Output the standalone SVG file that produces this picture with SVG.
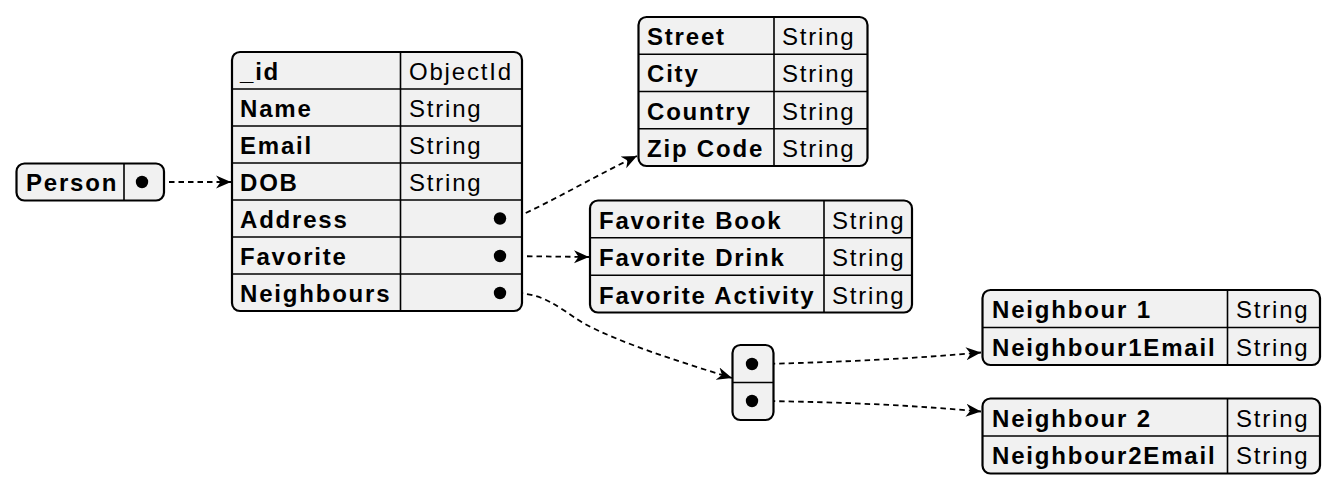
<svg xmlns="http://www.w3.org/2000/svg" width="1336" height="492" viewBox="0 0 1336 492">
<style>
.box{fill:#f1f1f1;stroke:#000;stroke-width:2.2}
.ln{stroke:#000;stroke-width:1.6;fill:none}
.k{font-family:"Liberation Sans",Arial,sans-serif;font-weight:bold;font-size:24px;letter-spacing:1.8px;fill:#000}
.v{font-family:"Liberation Sans",Arial,sans-serif;font-size:24px;letter-spacing:1.8px;fill:#000}
.dot{fill:#000}
.edge{fill:none;stroke:#000;stroke-width:1.8;stroke-dasharray:5.5,4}
</style>
<defs>
<marker id="ah" markerUnits="userSpaceOnUse" markerWidth="16" markerHeight="14" refX="15" refY="7" orient="auto">
<path d="M0,0.5 L15,7 L0,13.5 L4.5,7 z" fill="#000"/>
</marker>
</defs>
<g id="edges">
<path class="edge" d="M150,182 L231,182" marker-end="url(#ah)"/>
<path class="edge" d="M508,218.5 L514,218.5 C555,200 595,176 637,156" marker-end="url(#ah)"/>
<path class="edge" d="M508,256 L589,257" marker-end="url(#ah)"/>
<path class="edge" d="M508,293 L518,293 C545,295 555,305 583,323 C620,343 680,362 732,378" marker-end="url(#ah)"/>
<path class="edge" d="M760,364 C850,362 920,358 981,352.5" marker-end="url(#ah)"/>
<path class="edge" d="M760,401 C850,402 920,406 981,411.5" marker-end="url(#ah)"/>
</g>
<g id="person">
<rect class="box" x="16.5" y="163.5" width="147.5" height="37" rx="8"/>
<line class="ln" x1="124" y1="163.5" x2="124" y2="200.5"/>
<text class="k" x="26" y="190.5">Person</text>
<circle class="dot" cx="142" cy="182" r="6.2"/>
</g>
<g id="main">
<rect class="box" x="232" y="52" width="290" height="259" rx="8"/>
<line class="ln" x1="400.5" y1="52" x2="400.5" y2="311"/>
<line class="ln" x1="232" y1="89" x2="522" y2="89"/>
<line class="ln" x1="232" y1="126" x2="522" y2="126"/>
<line class="ln" x1="232" y1="163" x2="522" y2="163"/>
<line class="ln" x1="232" y1="200" x2="522" y2="200"/>
<line class="ln" x1="232" y1="237" x2="522" y2="237"/>
<line class="ln" x1="232" y1="274" x2="522" y2="274"/>
<text class="k" x="240" y="79.5">_id</text>
<text class="k" x="240" y="116.5">Name</text>
<text class="k" x="240" y="153.5">Email</text>
<text class="k" x="240" y="190.5">DOB</text>
<text class="k" x="240" y="227.5">Address</text>
<text class="k" x="240" y="264.5">Favorite</text>
<text class="k" x="240" y="301.5">Neighbours</text>
<text class="v" x="409" y="79.5">ObjectId</text>
<text class="v" x="409" y="116.5">String</text>
<text class="v" x="409" y="153.5">String</text>
<text class="v" x="409" y="190.5">String</text>
<circle class="dot" cx="500" cy="218.5" r="6.2"/>
<circle class="dot" cx="500" cy="256" r="6.2"/>
<circle class="dot" cx="500" cy="293" r="6.2"/>
</g>
<g id="address">
<rect class="box" x="638.5" y="17" width="229" height="149" rx="8"/>
<line class="ln" x1="774" y1="17" x2="774" y2="166"/>
<line class="ln" x1="638.5" y1="54.25" x2="867.5" y2="54.25"/>
<line class="ln" x1="638.5" y1="91.5" x2="867.5" y2="91.5"/>
<line class="ln" x1="638.5" y1="128.75" x2="867.5" y2="128.75"/>
<text class="k" x="647" y="44.5">Street</text>
<text class="k" x="647" y="81.5">City</text>
<text class="k" x="647" y="119.5">Country</text>
<text class="k" x="647" y="156.5">Zip Code</text>
<text class="v" x="782" y="44.5">String</text>
<text class="v" x="782" y="81.5">String</text>
<text class="v" x="782" y="119.5">String</text>
<text class="v" x="782" y="156.5">String</text>
</g>
<g id="favorite">
<rect class="box" x="590" y="200.5" width="322" height="112" rx="8"/>
<line class="ln" x1="824" y1="200.5" x2="824" y2="312.5"/>
<line class="ln" x1="590" y1="237.8" x2="912" y2="237.8"/>
<line class="ln" x1="590" y1="275.2" x2="912" y2="275.2"/>
<text class="k" x="599" y="228.5">Favorite Book</text>
<text class="k" x="599" y="265.5">Favorite Drink</text>
<text class="k" x="599" y="303.5">Favorite Activity</text>
<text class="v" x="832" y="228.5">String</text>
<text class="v" x="832" y="265.5">String</text>
<text class="v" x="832" y="303.5">String</text>
</g>
<g id="neighbours-array">
<rect class="box" x="732.5" y="345" width="41" height="75" rx="8"/>
<line class="ln" x1="732.5" y1="382.5" x2="773.5" y2="382.5"/>
<circle class="dot" cx="752" cy="364" r="6.2"/>
<circle class="dot" cx="752" cy="401" r="6.2"/>
</g>
<g id="neighbour1">
<rect class="box" x="982.5" y="290" width="337.5" height="75" rx="8"/>
<line class="ln" x1="1227.5" y1="290" x2="1227.5" y2="365"/>
<line class="ln" x1="982.5" y1="327.5" x2="1320" y2="327.5"/>
<text class="k" x="992" y="317.5">Neighbour 1</text>
<text class="k" x="992" y="355.5">Neighbour1Email</text>
<text class="v" x="1236" y="317.5">String</text>
<text class="v" x="1236" y="355.5">String</text>
</g>
<g id="neighbour2">
<rect class="box" x="982.5" y="398.5" width="337.5" height="75" rx="8"/>
<line class="ln" x1="1227.5" y1="398.5" x2="1227.5" y2="473.5"/>
<line class="ln" x1="982.5" y1="436" x2="1320" y2="436"/>
<text class="k" x="992" y="426.5">Neighbour 2</text>
<text class="k" x="992" y="463.5">Neighbour2Email</text>
<text class="v" x="1236" y="426.5">String</text>
<text class="v" x="1236" y="463.5">String</text>
</g>
</svg>
